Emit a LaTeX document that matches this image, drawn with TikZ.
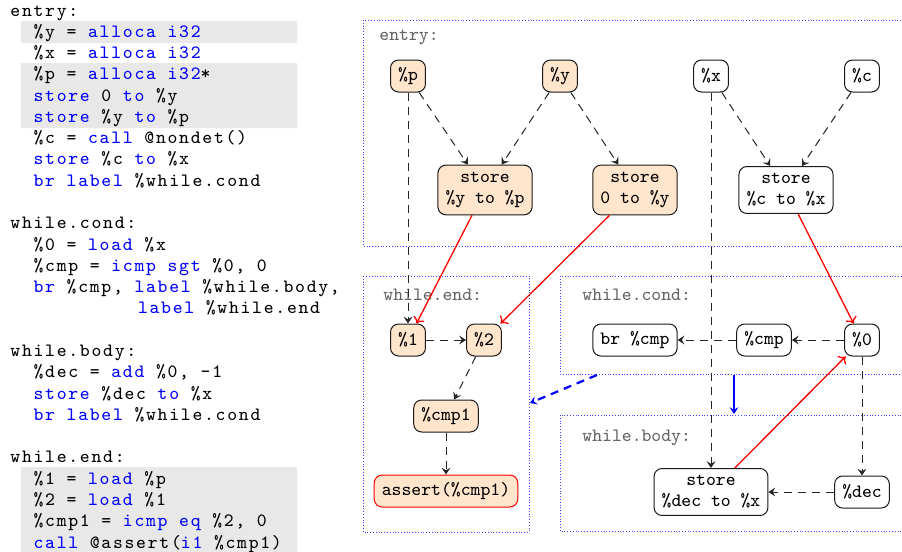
\documentclass[tikz,border=0pt]{standalone}
\usepackage{fontspec}
\setmonofont{Latin Modern Mono}
\newfontfamily\codefont[LetterSpace=9.2]{Latin Modern Mono}
\usetikzlibrary{arrows.meta}
\newcommand\kw[1]{\textcolor{blue}{#1}}
\newcommand\ind{\hspace*{11.6pt}}

\begin{document}
\begin{tikzpicture}[x=0.5pt,y=-0.5pt,>={Stealth[length=3.4pt,width=4.4pt,inset=1.3pt]},
  val/.style={draw=black!90,line width=0.5pt,fill=orange!20,rounded corners=4pt,font=\ttfamily\fontsize{9.4}{10.5}\selectfont,inner xsep=3.8pt,inner ysep=3.5pt,minimum height=16pt,align=center},
  plain/.style={val,fill=white},
  dep/.style={->,black!85,line width=0.5pt,dash pattern=on 4pt off 3pt},
  mem/.style={-{To[length=3pt,width=6pt]},red,line width=0.65pt},
  flow/.style={->,blue,line width=1.1pt},
  blockbox/.style={blue!75,densely dotted},
  blocklabel/.style={anchor=west,text=black!60,inner sep=0pt,font=\ttfamily\fontsize{9.4}{10.5}\selectfont},
  code/.style={anchor=base west,inner sep=0pt,font=\codefont\fontsize{9.4}{10.64}\selectfont}]
\useasboundingbox (0,0) rectangle (902,552);
\clip (0,0) rectangle (902,552);
% listing
\fill[black!9] (21,21) rectangle (297,43) (21,63) rectangle (297,128) (21,467) rectangle (297,552);
\foreach \n/\t in {0/{entry:},1/{\ind\%y = \kw{alloca i32}},2/{\ind\%x = \kw{alloca i32}},
  3/{\ind\%p = \kw{alloca i32}*},4/{\ind\kw{store} 0 \kw{to} \%y},5/{\ind\kw{store} \%y \kw{to} \%p},
  6/{\ind\%c = \kw{call} @nondet()},7/{\ind\kw{store} \%c \kw{to} \%x},8/{\ind\kw{br label} \%while.cond},
  10/{while.cond:},11/{\ind\%0 = \kw{load} \%x},12/{\ind\%cmp = \kw{icmp sgt} \%0, 0},
  13/{\ind\kw{br} \%cmp, \kw{label} \%while.body,},14/{\hspace*{63.8pt}\kw{label} \%while.end},
  16/{while.body:},17/{\ind\%dec = \kw{add} \%0, -1},18/{\ind\kw{store} \%dec \kw{to} \%x},
  19/{\ind\kw{br label} \%while.cond},
  21/{while.end:},22/{\ind\%1 = \kw{load} \%p},23/{\ind\%2 = \kw{load} \%1},
  24/{\ind\%cmp1 = \kw{icmp eq} \%2, 0},25/{\ind\kw{call} @assert(\kw{i1} \%cmp1)}}
  \node[code] (line\n) at (10,{16+21.28*\n}) {\t};
% blocks
\draw[blockbox] (363,20) rectangle (910,246);
\draw[blockbox] (363,276) rectangle (529,532);
\draw[blockbox] (560,276) rectangle (910,374);
\draw[blockbox] (560,415) rectangle (910,531);
\node[blocklabel] (entrylbl) at (379,37) {entry:};
\node[blocklabel] (endlbl) at (383,295) {while.end:};
\node[blocklabel] (condlbl) at (582,295) {while.cond:};
\node[blocklabel] (bodylbl) at (582,438) {while.body:};
% values
\node[val] (p) at (408,76) {\%p};
\node[val] (y) at (560,76) {\%y};
\node[plain] (x) at (711,76) {\%x};
\node[plain] (c) at (862,76) {\%c};
\node[val] (storeyp) at (485,190) {store\\\%y to \%p};
\node[val] (store0y) at (635,190) {store\\0 to \%y};
\node[plain] (storecx) at (786,190) {store\\\%c to \%x};
\node[val] (one) at (408,340) {\%1};
\node[val] (two) at (484,340) {\%2};
\node[val] (cmpone) at (446,416) {\%cmp1};
\node[val,draw=red] (assert) at (446,491) {assert(\%cmp1)};
\node[plain] (br) at (635,340) {br \%cmp};
\node[plain] (cmp) at (764,340) {\%cmp};
\node[plain] (zero) at (862,340) {\%0};
\node[plain] (storedx) at (711,492) {store\\\%dec to \%x};
\node[plain] (dec) at (862,492) {\%dec};
% def-use
\draw[dep] (p) -- (storeyp); \draw[dep] (y) -- (storeyp); \draw[dep] (y) -- (store0y);
\draw[dep] (x) -- (storecx); \draw[dep] (c) -- (storecx);
\draw[dep] (p) -- (one); \draw[dep] (one) -- (two); \draw[dep] (two) -- (cmpone); \draw[dep] (cmpone) -- (assert);
\draw[dep] (zero) -- (cmp); \draw[dep] (cmp) -- (br); \draw[dep] (zero) -- (dec);
\draw[dep] (dec) -- (storedx); \draw[dep] (x) -- (storedx);
% memory
\draw[mem] (storeyp) -- (one); \draw[mem] (store0y) -- (two);
\draw[mem] (storecx) -- (zero); \draw[mem] (storedx) -- (zero);
% control flow
\coordinate (condexit) at (597,375); \coordinate (endentry) at (530,403);
\coordinate (condbot) at (734,375); \coordinate (bodytop) at (734,414);
\draw[flow,dash pattern=on 4pt off 3pt] (condexit) -- (endentry);
\draw[flow] (condbot) -- (bodytop);
\end{tikzpicture}
\end{document}
